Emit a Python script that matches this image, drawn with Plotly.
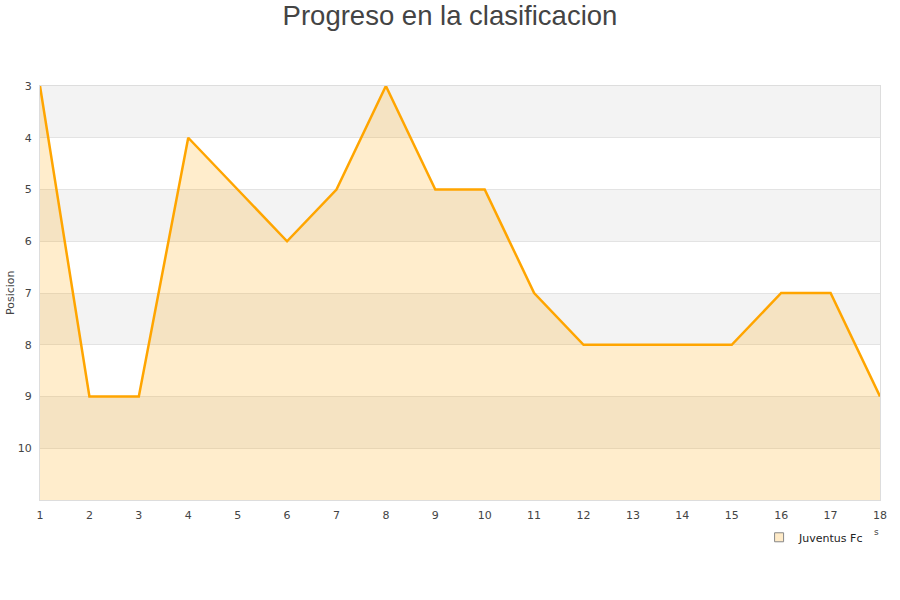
import plotly.graph_objects as go

jornadas = list(range(1, 19))
posiciones = [3, 9, 9, 4, 5, 6, 5, 3, 5, 5, 7, 8, 8, 8, 8, 7, 7, 9]
y_ticks = [3, 4, 5, 6, 7, 8, 9, 10]
equipo = "Juventus Fc"
titulo = "Progreso en la clasificacion"
y_titulo = "Posicion"
y_min, y_max = 3, 11

fig = go.Figure()

# alternating horizontal bands
for i, y0 in enumerate(range(y_min, y_max)):
    if i % 2 == 0:
        fig.add_shape(type="rect", xref="paper", yref="y", x0=0, x1=1,
                      y0=y0, y1=y0 + 1, fillcolor="#f3f3f3",
                      line=dict(width=0), layer="below")

# baseline for the area fill
fig.add_trace(go.Scatter(x=jornadas, y=[y_max] * len(jornadas), mode="lines",
                         line=dict(width=0), showlegend=False, hoverinfo="skip"))
fig.add_trace(go.Scatter(x=jornadas, y=posiciones, mode="lines",
                         line=dict(color="#ffa500", width=2.5),
                         fill="tonexty", fillcolor="rgba(255,165,0,0.2)",
                         showlegend=False, name=equipo))
# legend entry
fig.add_trace(go.Scatter(x=[None], y=[None], mode="markers", name=equipo,
                         marker=dict(symbol="square", size=9, color="#ffebc8",
                                     line=dict(color="#888", width=1))))

# y-axis caption
fig.add_annotation(text=y_titulo, xref="paper", yref="paper", x=-0.0357, y=0.5,
                   xanchor="center", yanchor="middle", textangle=-90,
                   showarrow=False, font=dict(size=11, color="#444"))

# clipped x-axis caption fragment
fig.add_annotation(text="s", xref="paper", yref="paper", x=0.9955, y=-0.078,
                   xanchor="center", yanchor="middle", showarrow=False,
                   font=dict(size=9, color="#444"))

fig.update_layout(
    width=900, height=600,
    paper_bgcolor="white", plot_bgcolor="white",
    margin=dict(l=40, r=20, t=86, b=100),
    title=dict(text=titulo, x=0.5, xanchor="center", y=0.99, yanchor="top",
               font=dict(family="Liberation Sans, Arial", size=27.5, color="#444")),
    font=dict(family="DejaVu Sans", size=11, color="#444"),
    xaxis=dict(range=[1, 18], tickmode="array", tickvals=jornadas,
               showgrid=False, zeroline=False, showline=True, linecolor="#ddd",
               mirror=True, ticks="", tickfont=dict(size=11, color="#444"),
               ticklabelstandoff=5, automargin=False),
    yaxis=dict(range=[y_max, y_min], tickmode="array", tickvals=y_ticks,
               showgrid=True, gridcolor="#e3e3e3", zeroline=False,
               showline=True, linecolor="#ddd", mirror=True, ticks="",
               tickfont=dict(size=11, color="#444"), ticklabelstandoff=5,
               automargin=False),
    legend=dict(x=0.987, xanchor="right", y=-0.055, yanchor="top",
                bgcolor="rgba(0,0,0,0)", font=dict(size=11, color="#222")),
)

fig.write_html("out.html")
